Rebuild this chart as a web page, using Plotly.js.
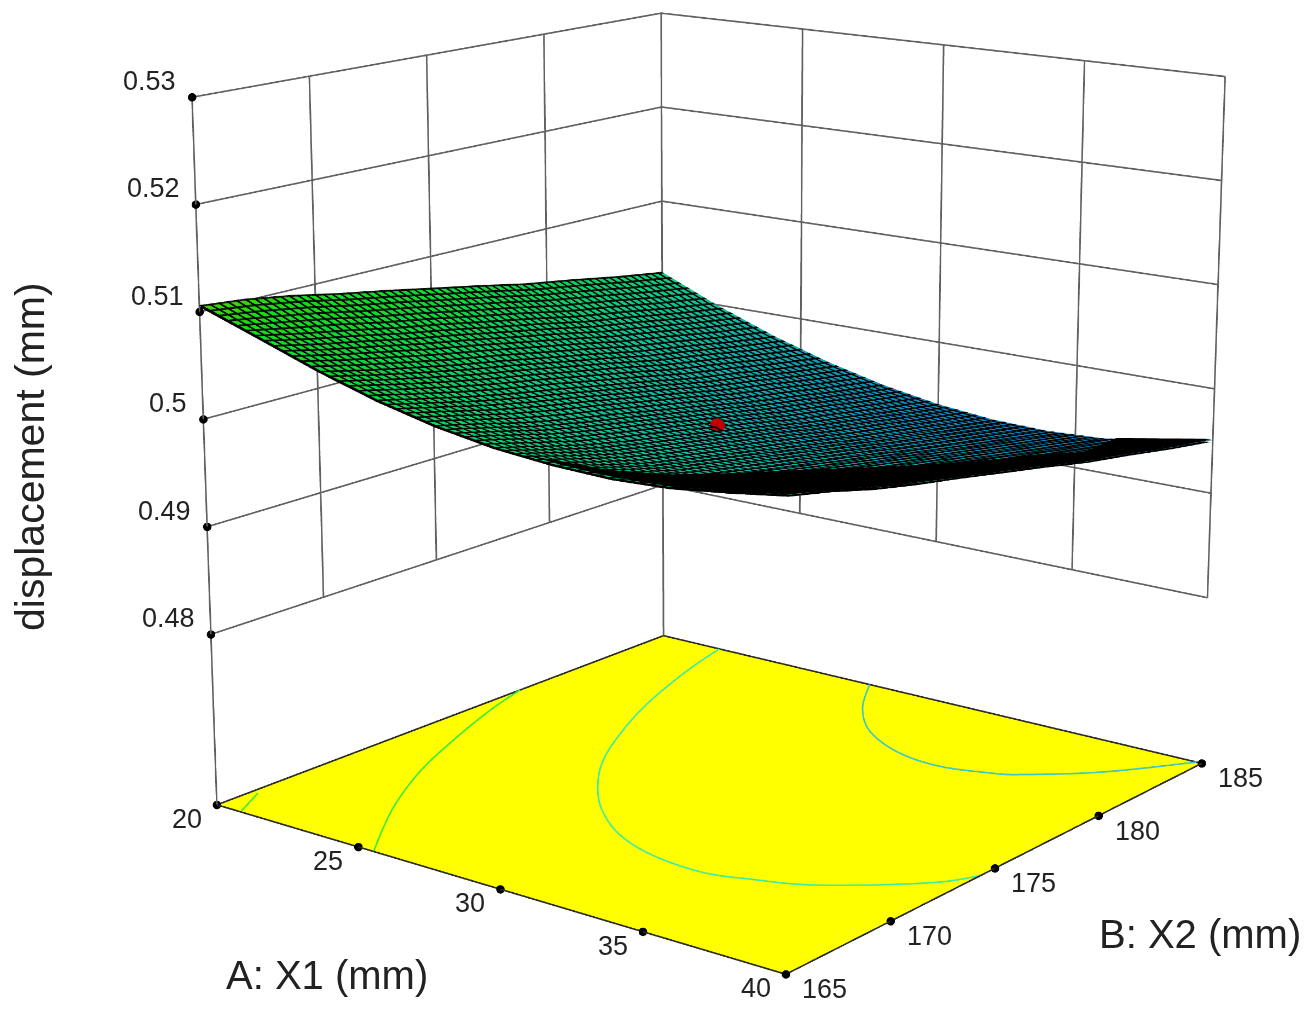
<!DOCTYPE html>
<html><head><meta charset="utf-8">
<script src="https://cdn.plot.ly/plotly-3.0.1.min.js"></script>
<style>html,body{margin:0;padding:0;width:1311px;height:1011px;overflow:hidden;background:#fff}
#plot{position:absolute;left:-859px;top:-1132px;width:3152px;height:3152px}</style>
</head><body><div id="plot"></div>
<script>
var aTicks=[20,25,30,35,40];
var bTicks=[165,170,175,180,185];
var zTicks=[0.48,0.49,0.5,0.51,0.52,0.53];
var zTickText=['0.48','0.49','0.5','0.51','0.52','0.53'];
var zFloor=0.4641;
var aGrid=[20,22,24,26,28,30,32,34,36,38,40];
var bGrid=[165,167,169,171,173,175,177,179,181,183,185];
var displacement=[
[0.51060,0.50864,0.50670,0.50506,0.50382,0.50298,0.50254,0.50240,0.50266,0.50332,0.50408],
[0.51018,0.50774,0.50570,0.50406,0.50282,0.50188,0.50134,0.50120,0.50146,0.50212,0.50318],
[0.50948,0.50694,0.50480,0.50306,0.50172,0.50078,0.50024,0.50010,0.50036,0.50102,0.50208],
[0.50858,0.50604,0.50390,0.50216,0.50082,0.49988,0.49934,0.49920,0.49946,0.50012,0.50118],
[0.50778,0.50524,0.50310,0.50136,0.50002,0.49908,0.49854,0.49840,0.49866,0.49932,0.50038],
[0.50688,0.50434,0.50220,0.50046,0.49912,0.49818,0.49764,0.49750,0.49776,0.49842,0.49948],
[0.50598,0.50344,0.50130,0.49956,0.49822,0.49728,0.49674,0.49660,0.49686,0.49752,0.49858],
[0.50498,0.50244,0.50030,0.49856,0.49722,0.49628,0.49574,0.49560,0.49586,0.49652,0.49758],
[0.50418,0.50164,0.49950,0.49776,0.49642,0.49548,0.49494,0.49480,0.49506,0.49572,0.49678],
[0.50328,0.50074,0.49860,0.49686,0.49552,0.49458,0.49404,0.49390,0.49416,0.49482,0.49588],
[0.50248,0.49994,0.49780,0.49606,0.49472,0.49378,0.49324,0.49310,0.49336,0.49402,0.49508]];
// contours on the floor (A, B)
var contourCornerA=[20.8,20.2], contourCornerB=[165.1,166.6];
var contourLeftA=[25.54,24.6,23.52,22.3,21.24,20.48,20];
var contourLeftB=[165,166.62,168.62,171.32,174.32,176.72,178.6];
var contourMidA=[22.06,22.62,23.61,24.68,25.78,27.1,28.4,29.94,31.64,33.56,35.02,36.38,37.92,39.34,40];
var contourMidB=[185,182.82,179.8,177.26,175.1,173.22,171.8,170.62,169.92,169.74,170.2,170.76,171.9,173.22,174.3];
var contourRightA=[27.62,28.76,30.2,31.98,33.66,35.2,36,37.92,39.8];
var contourRightB=[185,183.26,181.8,180.86,180.62,181,181.36,182.86,185];
var designPoint={a:[30],b:[175],z:[0.4987]};
// where the reference shows the black underside of the sheet: inner limit and matching rim
var undersideInnerA=[31,33,33.8,34.2,35,36,36.8,37.2,38,36.5];
var undersideInnerB=[165,166.2,167.8,170,172.6,175.6,178,180.7,181.5,185];
var undersideRimA=[31,33.5,36,38,40,40,40,40,40,40];
var undersideRimB=[165,165,165,165,165,170,175,179,182,185];
var meshOffsets=[0,0.035,0.07];

var AMIN=20,AMAX=40,BMIN=165,BMAX=185,ZTOP=0.53,ZBASE=0.48;
// The reference spaces its ticks evenly on screen despite its converging verticals,
// so each axis goes through a projective display scale that undoes the camera's foreshortening.
function evenScale(lo,hi,rho){return function(v){var t=(v-lo)/(hi-lo);return lo+(hi-lo)*t/(t+(1-t)*rho);};}
var posA=evenScale(AMIN,AMAX,0.895), posB=evenScale(BMIN,BMAX,1.15), posZ=evenScale(zFloor,ZTOP,0.95);
var lift=0.00008;
function lines(segs,color,width){
  var x=[],y=[],z=[];
  segs.forEach(function(s){x.push(posA(s[0]),posA(s[3]),null);y.push(posB(s[1]),posB(s[4]),null);z.push(posZ(s[2]),posZ(s[5]),null);});
  return {type:'scatter3d',mode:'lines',x:x,y:y,z:z,line:{color:color,width:width},hoverinfo:'skip',showlegend:false};
}
var wall=[];
zTicks.forEach(function(t){wall.push([AMIN,BMIN,t,AMIN,BMAX,t]);wall.push([AMIN,BMAX,t,AMAX,BMAX,t]);});
bTicks.forEach(function(t){wall.push([AMIN,t,(t==BMIN||t==BMAX)?zFloor:ZBASE,AMIN,t,ZTOP]);});
aTicks.forEach(function(t){if(t>AMIN)wall.push([t,BMAX,ZBASE,t,BMAX,ZTOP]);});
var floorEdge=[[AMIN,BMIN,zFloor+lift,AMAX,BMIN,zFloor+lift],[AMAX,BMIN,zFloor+lift,AMAX,BMAX,zFloor+lift],[AMAX,BMAX,zFloor+lift,AMIN,BMAX,zFloor+lift],[AMIN,BMAX,zFloor+lift,AMIN,BMIN,zFloor+lift]];
// smooth drawing of a curve through its read points (same role as a spline line shape)
function smooth(p){
  var out=[];
  for(var i=0;i<p.length-1;i++){
    var p0=p[Math.max(i-1,0)],p1=p[i],p2=p[i+1],p3=p[Math.min(i+2,p.length-1)];
    for(var s=0;s<6;s++){var t=s/6;
      out.push(0.5*((2*p1)+(p2-p0)*t+(2*p0-5*p1+4*p2-p3)*t*t+(3*p1-p0-3*p2+p3)*t*t*t));}
  }
  out.push(p[p.length-1]);
  return out;
}
function floorCurve(a,b,color){
  var sa=smooth(a),sb=smooth(b);
  return {type:'scatter3d',mode:'lines',x:sa.map(posA),y:sb.map(posB),z:sa.map(function(){return posZ(zFloor+lift);}),line:{color:color,width:3},hoverinfo:'skip',showlegend:false};
}
function dots(x,y,z){
  return {type:'scatter3d',mode:'markers',x:x.map(posA),y:y.map(posB),z:z.map(posZ),marker:{color:'#000',size:4.5,line:{width:0}},hoverinfo:'skip',showlegend:false};
}
function sheetAt(a,b){
  var i=Math.min(Math.floor((a-AMIN)/2),aGrid.length-2), j=Math.min(Math.floor((b-BMIN)/2),bGrid.length-2);
  var s=(a-aGrid[i])/2, t=(b-bGrid[j])/2;
  return displacement[j][i]*(1-s)*(1-t)+displacement[j][i+1]*s*(1-t)+displacement[j+1][i]*(1-s)*t+displacement[j+1][i+1]*s*t;
}
var flat={ambient:1,diffuse:0,specular:0,fresnel:0,roughness:1};
var cs=[[0,'#1080c0'],[0.25,'#10b0b0'],[0.45,'#10c890'],[0.7,'#10d840'],[0.9,'#18dc18'],[1,'#58cc00']];
var xShow=aGrid.map(posA), yShow=bGrid.map(posB);
var zShow=displacement.map(function(r){return r.map(posZ);});
var traces=[
 {type:'surface',x:[AMIN,AMAX],y:[BMIN,BMAX],z:[[zFloor,zFloor],[zFloor,zFloor]],colorscale:[[0,'#ffff00'],[1,'#ffff00']],showscale:false,lighting:flat,hoverinfo:'skip'},
 lines(wall,'#606060',3),
 lines(floorEdge,'#2a2a2a',3),
 floorCurve(contourCornerA,contourCornerB,'#3cec3c'),
 floorCurve(contourLeftA,contourLeftB,'#3cec3c'),
 floorCurve(contourMidA,contourMidB,'#40eca0'),
 floorCurve(contourRightA,contourRightB,'#40c8c0'),
 {type:'surface',x:xShow,y:yShow,z:zShow.map(function(r){return r.map(function(v){return v-0.00015;});}),colorscale:[[0,'#000'],[1,'#000']],showscale:false,lighting:flat,hoverinfo:'skip'},
 {type:'surface',x:xShow,y:yShow,z:zShow,surfacecolor:displacement,cmin:0.4931,cmax:0.511,colorscale:cs,showscale:false,lighting:flat,hoverinfo:'skip'}
];
meshOffsets.forEach(function(d){
 traces.push({type:'surface',x:xShow,y:yShow,z:zShow,hidesurface:true,showscale:false,hoverinfo:'skip',
  contours:{x:{show:true,start:AMIN+d,end:AMAX,size:0.34,color:'#000',width:1,highlight:false},
            y:{show:true,start:BMIN+d,end:BMAX,size:0.34,color:'#000',width:1,highlight:false},
            z:{highlight:false}}});
});
function rimZ(as,bs){return as.map(function(a,i){return posZ(sheetAt(a,bs[i])+0.00012);});}
traces.push(
 {type:'surface',
  x:[undersideInnerA.map(posA),undersideRimA.map(posA)],
  y:[undersideInnerB.map(posB),undersideRimB.map(posB)],
  z:[rimZ(undersideInnerA,undersideInnerB),rimZ(undersideRimA,undersideRimB)],
  colorscale:[[0,'#000'],[1,'#000']],showscale:false,lighting:flat,hoverinfo:'skip'},
 dots(zTicks.map(function(){return AMIN;}),zTicks.map(function(){return BMIN;}),zTicks),
 dots(aTicks,aTicks.map(function(){return BMIN;}),aTicks.map(function(){return zFloor+lift;})),
 dots(bTicks.map(function(){return AMAX;}),bTicks,bTicks.map(function(){return zFloor+lift;})),
 {type:'scatter3d',mode:'markers',x:designPoint.a.map(posA),y:designPoint.b.map(posB),z:designPoint.z.map(posZ),marker:{color:'#c00000',size:8,line:{width:0}},hoverinfo:'skip',showlegend:false}
);
var F='"Liberation Sans",Arial,sans-serif';
function note(x,y,z,text,xs,ys,size,opt){
  var n={x:posA(x),y:posB(y),z:posZ(z),text:text,showarrow:false,xshift:xs,yshift:ys,font:{family:F,size:size,color:'#222'}};
  for(var k in (opt||{}))n[k]=opt[k];
  return n;
}
var anns=[];
zTicks.forEach(function(t,i){anns.push(note(AMIN,BMIN,t,zTickText[i],-14,16,27,{xanchor:'right'}));});
aTicks.forEach(function(t){anns.push(note(t,BMIN,zFloor,String(t),-30,-13,27));});
bTicks.forEach(function(t){anns.push(note(AMAX,t,zFloor,String(t),39,-14,27));});
anns.push(note(30,BMIN,zFloor,'A: X1 (mm)',-173,-85,40));
anns.push(note(AMAX,175,zFloor,'B: X2 (mm)',205,-65,40));
anns.push(note(AMIN,BMIN,0.505,'displacement (mm)',-172,-91,41,{textangle:-90}));
function ax(range){return {range:range,autorange:false,title:{text:''},showgrid:false,zeroline:false,showline:false,showticklabels:false,ticks:'',showbackground:false,showspikes:false};}
var layout={width:3152,height:3152,margin:{l:0,r:0,t:0,b:0},paper_bgcolor:'#fff',showlegend:false,
 scene:{domain:{x:[0,1],y:[0,1]},hovermode:false,dragmode:false,
  xaxis:ax([AMIN-0.02,AMAX+0.02]),yaxis:ax([BMIN-0.02,BMAX+0.02]),zaxis:ax([zFloor-0.0002,ZTOP+0.0002]),
  aspectmode:'manual',aspectratio:{x:0.945,y:0.947,z:0.953},
  camera:{eye:{x:2.977,y:-3.815,z:1.26},center:{x:0,y:0,z:0},up:{x:0,y:0,z:1}},
  annotations:anns}};
Plotly.newPlot('plot',traces,layout,{displayModeBar:false,responsive:false});
</script></body></html>
